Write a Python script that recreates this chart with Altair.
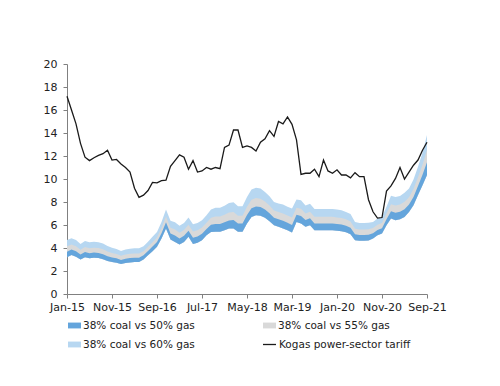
import json
import altair as alt
import pandas as pd

x_labels = ["Jan-15", "Nov-15", "Sep-16", "Jul-17", "May-18", "Mar-19", "Jan-20", "Nov-20", "Sep-21"]
series_names = ["38% coal vs 50% gas", "38% coal vs 55% gas", "38% coal vs 60% gas"]
series_colors = ["#64a5dc", "#d9d9d9", "#b7d7f1"]
line_name = "Kogas power-sector tariff"

# lower edge of the band
band_floor = [3.2, 3.4, 3.25, 3.0, 3.2, 3.1, 3.15, 3.12, 3.02, 2.88,
              2.78, 2.72, 2.6, 2.7, 2.75, 2.78, 2.78, 3.0, 3.37, 3.72,
              4.1, 4.82, 5.7, 4.74, 4.53, 4.3, 4.53, 4.97, 4.35, 4.45,
              4.68, 5.1, 5.4, 5.42, 5.42, 5.55, 5.69, 5.7, 5.42, 5.42,
              6.13, 6.7, 6.85, 6.8, 6.62, 6.33, 5.98, 5.84, 5.69, 5.55,
              5.34, 6.27, 6.13, 5.84, 5.98, 5.55, 5.55, 5.55, 5.55, 5.55,
              5.49, 5.45, 5.37, 5.2, 4.68, 4.62, 4.62, 4.65, 4.82, 5.11,
              5.26, 5.98, 6.56, 6.42, 6.5, 6.7, 7.14, 7.72, 8.6, 9.46, 10.34]
gas50 = [3.68, 3.86, 3.71, 3.43, 3.65, 3.55, 3.6, 3.56, 3.46, 3.29,
         3.18, 3.1, 2.96, 3.07, 3.13, 3.16, 3.16, 3.37, 3.75, 4.12,
         4.52, 5.28, 6.23, 5.26, 5.08, 4.82, 5.06, 5.51, 4.9, 5.0,
         5.24, 5.66, 6.02, 6.09, 6.09, 6.23, 6.4, 6.43, 6.12, 6.12,
         6.87, 7.46, 7.61, 7.56, 7.34, 7.02, 6.63, 6.49, 6.36, 6.2,
         6.01, 6.89, 6.78, 6.44, 6.58, 6.14, 6.14, 6.14, 6.14, 6.14,
         6.09, 6.04, 5.94, 5.76, 5.19, 5.12, 5.12, 5.15, 5.28, 5.57,
         5.72, 6.49, 7.2, 7.07, 7.15, 7.37, 7.79, 8.43, 9.39, 10.37, 11.45]
gas55 = [4.15, 4.31, 4.16, 3.85, 4.08, 3.98, 4.03, 3.99, 3.89, 3.69,
         3.56, 3.48, 3.32, 3.44, 3.49, 3.53, 3.53, 3.72, 4.11, 4.51,
         4.92, 5.73, 6.74, 5.76, 5.61, 5.33, 5.57, 6.03, 5.43, 5.54,
         5.78, 6.2, 6.63, 6.73, 6.73, 6.89, 7.09, 7.14, 6.81, 6.81,
         7.59, 8.2, 8.35, 8.29, 8.04, 7.7, 7.26, 7.12, 7.01, 6.83,
         6.66, 7.5, 7.41, 7.01, 7.15, 6.72, 6.72, 6.72, 6.72, 6.72,
         6.66, 6.61, 6.49, 6.31, 5.68, 5.6, 5.6, 5.63, 5.73, 6.02,
         6.17, 6.99, 7.81, 7.69, 7.78, 8.02, 8.42, 9.12, 10.15, 11.25, 12.53]
gas60 = [4.7, 4.85, 4.7, 4.35, 4.6, 4.5, 4.55, 4.5, 4.4, 4.17,
         4.02, 3.92, 3.74, 3.87, 3.93, 3.97, 3.97, 4.15, 4.55, 4.97,
         5.4, 6.27, 7.35, 6.36, 6.25, 5.93, 6.18, 6.65, 6.07, 6.18,
         6.42, 6.85, 7.35, 7.5, 7.5, 7.67, 7.92, 7.98, 7.62, 7.62,
         8.44, 9.08, 9.23, 9.17, 8.88, 8.5, 8.01, 7.87, 7.78, 7.58,
         7.44, 8.22, 8.16, 7.7, 7.84, 7.4, 7.4, 7.4, 7.4, 7.4,
         7.35, 7.29, 7.14, 6.96, 6.27, 6.18, 6.18, 6.2, 6.27, 6.56,
         6.7, 7.58, 8.55, 8.44, 8.53, 8.8, 9.17, 9.95, 11.06, 12.3, 13.82]
kogas = [17.2, 16.0, 14.8, 13.1, 11.9, 11.6, 11.85, 12.05, 12.2, 12.5,
         11.65, 11.7, 11.3, 11.0, 10.6, 9.2, 8.4, 8.6, 9.0, 9.7,
         9.67, 9.85, 9.9, 11.1, 11.6, 12.1, 11.9, 10.85, 11.6, 10.6,
         10.7, 11.0, 10.85, 11.0, 10.9, 12.75, 12.95, 14.26, 14.26, 12.75,
         12.87, 12.75, 12.43, 13.2, 13.5, 14.2, 13.7, 15.0, 14.8, 15.4,
         14.75, 13.4, 10.4, 10.5, 10.5, 10.85, 10.2, 11.65, 10.7, 10.5,
         10.8, 10.35, 10.35, 10.1, 10.55, 10.2, 10.2, 8.2, 7.15, 6.6,
         6.65, 8.95, 9.4, 10.05, 11.0, 10.0, 10.6, 11.2, 11.65, 12.5, 13.2]

months = list(range(len(kogas)))
rows = []
for name, top in zip(series_names, [gas50, gas55, gas60]):
    for m, lo, hi in zip(months, band_floor, top):
        rows.append({"month": m, "series": name, "lo": lo, "hi": hi})
bands = pd.DataFrame(rows)
line_df = pd.DataFrame({"month": months, "value": kogas, "series": line_name})

FONT = "DejaVu Sans"
label_expr = json.dumps(x_labels) + "[round(datum.value / 10)]"

# legend lays entries out column by column: order so rows read 50 | 55, 60
legend_order = [series_names[0], series_names[2], series_names[1]]
legend_colors = [series_colors[0], series_colors[2], series_colors[1]]

x_enc = alt.X("month:Q",
              scale=alt.Scale(domain=[0, 80], nice=False, zero=False),
              axis=alt.Axis(values=list(range(0, 81, 10)), labelExpr=label_expr,
                            title=None, grid=False, tickSize=4, labelPadding=3,
                            domainColor="#808080", tickColor="#808080",
                            labelFont=FONT, labelFontSize=11, labelColor="#222222",
                            labelFlush=False, labelOverlap=False))
y_axis = alt.Axis(values=list(range(0, 21, 2)), title=None, grid=False, tickSize=4,
                  labelPadding=6, domainColor="#808080", tickColor="#808080",
                  labelFont=FONT, labelFontSize=11, labelColor="#222222")
y_scale = alt.Scale(domain=[0, 20], nice=False)

fill_enc = alt.Fill("series:N",
                    scale=alt.Scale(domain=legend_order, range=legend_colors),
                    legend=alt.Legend(title=None, orient="none", legendX=1, legendY=255,
                                      columns=2, columnPadding=68, rowPadding=7,
                                      symbolType="M-1,-0.45L1,-0.45L1,0.45L-1,0.45Z",
                                      symbolSize=169, symbolStrokeWidth=0,
                                      symbolOpacity=1, labelOffset=2,
                                      labelFont=FONT, labelFontSize=10.5,
                                      labelColor="#222222"))

layers = []
for name in reversed(series_names):
    layers.append(
        alt.Chart(bands).transform_filter(alt.datum.series == name)
        .mark_area(opacity=1, interpolate="linear")
        .encode(x=x_enc, y=alt.Y("lo:Q", scale=y_scale, axis=y_axis), y2="hi:Q",
                fill=fill_enc)
    )

line = alt.Chart(line_df).mark_line(strokeWidth=1.3).encode(
    x=x_enc,
    y=alt.Y("value:Q", scale=y_scale, axis=y_axis),
    stroke=alt.Stroke("series:N",
                      scale=alt.Scale(domain=[line_name], range=["#1a1a1a"]),
                      legend=alt.Legend(title=None, orient="none", legendX=195, legendY=273,
                                        symbolType="stroke", symbolSize=169,
                                        symbolStrokeWidth=1.3, labelOffset=2,
                                        labelFont=FONT, labelFontSize=10.5,
                                        labelColor="#222222")),
)

chart = alt.layer(*layers, line).properties(
    width=360, height=230,
    autosize=alt.AutoSizeParams(type="none"),
    padding={"left": 59, "top": 56, "right": 65, "bottom": 70},
).configure_view(stroke=None)

chart.save("out.html", embed_options={"renderer": "svg", "actions": False})
